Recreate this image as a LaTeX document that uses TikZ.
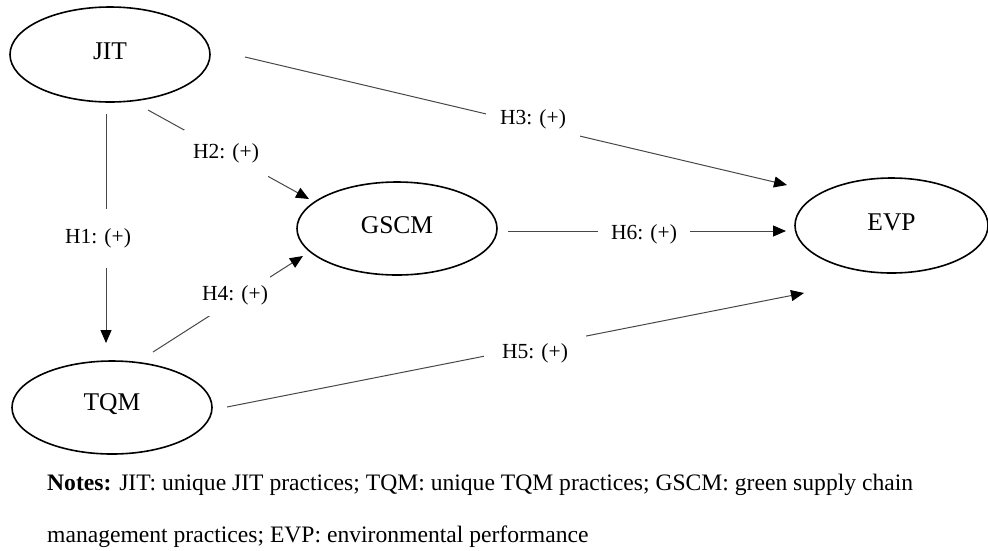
\documentclass[tikz,border=0pt]{standalone}
\usepackage{fontspec}
\setmainfont{Liberation Serif}
\usetikzlibrary{arrows.meta,shapes.geometric}
\begin{document}
\begin{tikzpicture}[x=1pt,y=-1pt,
  ell/.style={draw=black, line width=1.6pt, ellipse, inner sep=0pt,
    font=\fontsize{25.5}{28}\selectfont},
  lbl/.style={fill=white, inner sep=0pt, font=\fontsize{21.5}{24}\selectfont},
  conn/.style={line width=1pt, draw=black!72,
    -{Triangle[length=13pt,width=11pt,color=black]}},
  note/.style={anchor=base west, inner sep=0pt, font=\fontsize{23.6}{26}\selectfont}]
\useasboundingbox (0,0) rectangle (988,550);

% constructs
\node[ell, minimum width=200pt, minimum height=95pt] (jit) at (110,54.5) {\raisebox{7.5pt}{JIT}};
\node[ell, minimum width=200pt, minimum height=93pt] (tqm) at (112,407.5) {\raisebox{10pt}{TQM}};
\node[ell, minimum width=200pt, minimum height=93pt] (gscm) at (397,228.5) {\raisebox{6.5pt}{GSCM}};
\node[ell, minimum width=193pt, minimum height=95pt] (evp) at (891.5,225.5) {\raisebox{7.5pt}{EVP}};

% connector end points
\coordinate (h1s) at (106,114);  \coordinate (h1e) at (106,343);
\coordinate (h2s) at (148,110);  \coordinate (h2e) at (309,199);
\coordinate (h3s) at (245,57);   \coordinate (h3e) at (787,185);
\coordinate (h4s) at (153,352);  \coordinate (h4e) at (303,256);
\coordinate (h5s) at (227,407);  \coordinate (h5e) at (804,293);
\coordinate (h6s) at (508,231);  \coordinate (h6e) at (786,231);

\draw[conn] (h1s) -- (h1e);
\draw[conn] (h2s) -- (h2e);
\draw[conn] (h3s) -- (h3e);
\draw[conn] (h4s) -- (h4e);
\draw[conn] (h5s) -- (h5e);
\draw[conn] (h6s) -- (h6e);

% hypothesis labels (mask the lines)
\node[lbl, inner xsep=4pt, inner ysep=20pt] (h1) at (98,238.5) {H1: (+)};
\node[lbl, inner xsep=9pt, inner ysep=14pt] (h2) at (226,153.5) {H2: (+)};
\node[lbl, inner xsep=14pt, inner ysep=11pt] (h3) at (533,119.5) {H3: (+)};
\node[lbl, inner xsep=2pt, inner ysep=11pt] (h4) at (235,295.5) {H4: (+)};
\node[lbl, inner xsep=18pt, inner ysep=9pt] (h5) at (535,353.5) {H5: (+)};
\node[lbl, inner xsep=13pt, inner ysep=5pt] (h6) at (644,234.5) {H6: (+)};

% notes
\node[note] (notes1) at (47,490) {\textbf{Notes:} JIT: unique JIT practices; TQM: unique TQM practices; GSCM: green supply chain};
\node[note] (notes2) at (47,542) {management practices; EVP: environmental performance};
\end{tikzpicture}
\end{document}
